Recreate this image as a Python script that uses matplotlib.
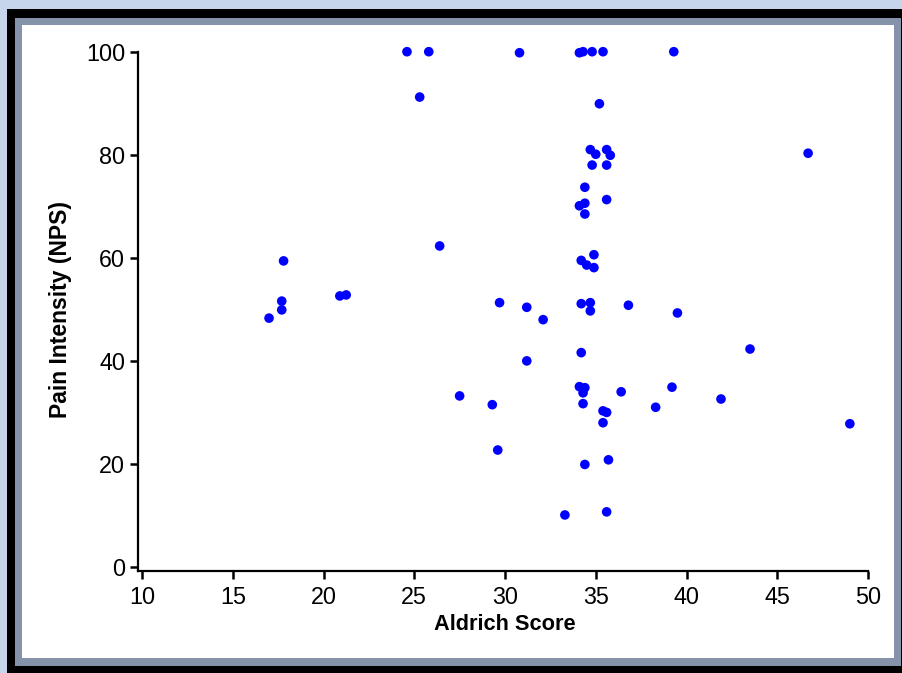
"""Aldrich score vs pain intensity (NPS) scatter."""
import matplotlib
matplotlib.use("Agg")
import matplotlib.pyplot as plt
from matplotlib.patches import Rectangle

plt.rcParams["font.family"] = ["Liberation Sans", "DejaVu Sans"]

W, H = 902, 673

aldrich = [17.0, 17.7, 17.7, 17.8, 20.9, 21.25, 24.6, 25.8, 25.3, 26.4,
           27.5, 29.3, 29.6, 29.7, 30.8, 31.2, 31.2, 32.1, 33.3,
           34.1, 34.3, 34.8, 35.4, 39.3, 35.2,
           34.7, 35.0, 35.6, 35.8, 34.8, 35.6, 34.4, 35.6, 34.1, 34.4, 34.4,
           34.9, 34.2, 34.5, 34.9, 34.2, 34.7, 34.7, 36.8, 39.5,
           34.2, 34.1, 34.4, 34.3, 34.3, 36.4, 39.2, 38.3, 35.4, 35.6, 35.4,
           34.4, 35.7, 35.6, 43.5, 46.7, 41.9, 49.0]
nps = [48.3, 51.6, 49.9, 59.4, 52.6, 52.8, 100.0, 100.0, 91.2, 62.3,
       33.2, 31.5, 22.7, 51.3, 99.8, 50.4, 40.0, 48.0, 10.1,
       99.8, 100.0, 100.0, 100.0, 100.0, 89.9,
       81.0, 80.1, 81.0, 79.9, 78.0, 78.0, 73.7, 71.3, 70.1, 70.6, 68.5,
       60.6, 59.5, 58.6, 58.1, 51.1, 51.3, 49.7, 50.8, 49.3,
       41.6, 35.0, 34.8, 33.8, 31.7, 34.0, 34.9, 31.0, 30.3, 30.0, 28.0,
       19.9, 20.8, 10.7, 42.3, 80.3, 32.6, 27.8]

xticks = [10, 15, 20, 25, 30, 35, 40, 45, 50]
yticks = [0, 20, 40, 60, 80, 100]


def px_rect(x0, y0, x1, y1, **kw):
    return Rectangle((x0 / W, 1 - y1 / H), (x1 - x0) / W, (y1 - y0) / H,
                     transform=fig.transFigure, figure=fig, **kw)


fig = plt.figure(figsize=(W / 100, H / 100), dpi=100, facecolor="#c6d5e9")
fig.patches.extend([
    px_rect(7, 9, 905, 680, facecolor="black", edgecolor="none", zorder=-3),
    px_rect(15, 18, 901, 666, facecolor="#8493aa", edgecolor="none", zorder=-2),
    px_rect(22, 25, 894, 658, facecolor="white", edgecolor="none", zorder=-1),
])

ax = fig.add_axes([142 / W, 1 - 567 / H, (868 - 142) / W, (567 - 51.7) / H])
ax.patch.set_alpha(0)
ax.scatter(aldrich, nps, s=48, color="#0000ff", edgecolors="none",
           clip_on=False, zorder=3)

ax.set_xlim(10, 50)
ax.set_ylim(0, 100)
ax.set_xticks(xticks)
ax.set_yticks(yticks)
for side in ("top", "right"):
    ax.spines[side].set_visible(False)
for side in ("left", "bottom"):
    ax.spines[side].set_position(("outward", 3))
    ax.spines[side].set_linewidth(1.6)
ax.spines["left"].set_bounds(-0.7, 100)
ax.spines["bottom"].set_bounds(9.8, 50)
ax.tick_params(direction="out", length=6, width=1.8, labelsize=16.8,
               colors="black")
ax.tick_params(axis="x", pad=5)
ax.tick_params(axis="y", pad=3)

ax.set_xlabel("Aldrich Score", fontsize=15.7, fontweight="bold", labelpad=3)
ax.set_ylabel("Pain Intensity (NPS)", fontsize=16.5, fontweight="bold",
              labelpad=10)

fig.savefig("out.png", dpi=100, facecolor=fig.get_facecolor())
